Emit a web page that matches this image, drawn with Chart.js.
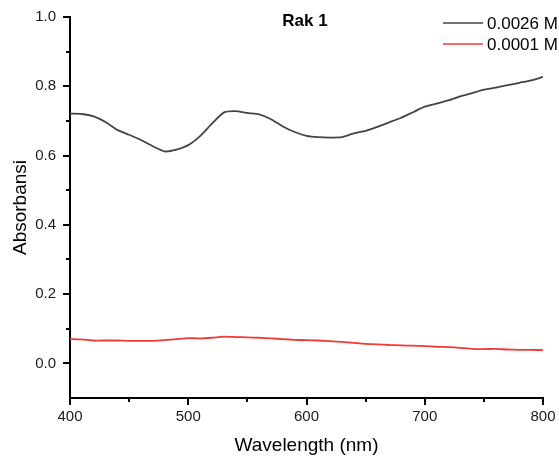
<!DOCTYPE html>
<html>
<head>
<meta charset="utf-8">
<script src="https://cdn.jsdelivr.net/npm/chart.js@4.4.1/dist/chart.umd.min.js"></script>
<style>
  html, body { margin: 0; padding: 0; background: #fff; }
  #wrap { width: 559px; height: 459px; position: relative; }
</style>
</head>
<body>
<div id="wrap"><canvas id="myChart"></canvas></div>
<script>
const FONT = 'Arial, "Liberation Sans", sans-serif';

const chart_title = "Rak 1";
const wavelengths = [400, 410, 420, 430, 440, 450, 460, 470, 480, 490,
  500, 510, 520, 530, 540, 550, 560, 570, 580, 590,
  600, 610, 620, 630, 640, 650, 660, 670, 680, 690,
  700, 710, 720, 730, 740, 750, 760, 770, 780, 790, 800];
const abs_0026 = [0.721, 0.720, 0.713, 0.697, 0.674, 0.660, 0.645, 0.627, 0.612, 0.617,
  0.630, 0.656, 0.692, 0.724, 0.728, 0.723, 0.719, 0.705, 0.684, 0.668,
  0.657, 0.653, 0.652, 0.653, 0.664, 0.671, 0.683, 0.696, 0.709, 0.725,
  0.741, 0.750, 0.759, 0.771, 0.780, 0.790, 0.796, 0.803, 0.810, 0.817, 0.827];
const abs_0001 = [0.070, 0.069, 0.066, 0.066, 0.066, 0.065, 0.065, 0.065, 0.067, 0.070,
  0.073, 0.072, 0.074, 0.077, 0.076, 0.075, 0.074, 0.072, 0.070, 0.068,
  0.067, 0.066, 0.064, 0.062, 0.059, 0.056, 0.055, 0.053, 0.052, 0.051,
  0.050, 0.048, 0.047, 0.045, 0.042, 0.041, 0.042, 0.040, 0.039, 0.039, 0.038];
const series_labels = ["0.0026 M", "0.0001 M"];
const x_major = [400, 500, 600, 700, 800];
const x_minor = [450, 550, 650, 750];
const y_major = [0.0, 0.2, 0.4, 0.6, 0.8, 1.0];
const y_minor = [0.1, 0.3, 0.5, 0.7, 0.9];

function toPoints(vals) {
  return wavelengths.map((w, i) => ({ x: w, y: vals[i] }));
}

// minor ticks, title and legend are drawn by hand
const extras = {
  id: "extras",
  afterDraw(c) {
    const ctx = c.ctx;
    const xs = c.scales.x, ys = c.scales.y;
    const area = c.chartArea;
    ctx.save();
    ctx.strokeStyle = "#000";
    ctx.lineWidth = 2;
    ctx.beginPath();
    for (const v of x_minor) {
      const px = Math.round(xs.getPixelForValue(v));
      ctx.moveTo(px, area.bottom);
      ctx.lineTo(px, area.bottom + 4);
    }
    for (const v of y_minor) {
      const py = Math.round(ys.getPixelForValue(v));
      ctx.moveTo(area.left, py);
      ctx.lineTo(area.left - 4, py);
    }
    ctx.stroke();

    ctx.fillStyle = "#000";
    ctx.font = "bold 17px " + FONT;
    ctx.textAlign = "center";
    ctx.textBaseline = "alphabetic";
    ctx.fillText(chart_title, 305, 26);

    ctx.font = "17px " + FONT;
    ctx.textAlign = "left";
    ctx.textBaseline = "middle";
    c.data.datasets.forEach((ds, i) => {
      const y = 23 + i * 21;
      ctx.strokeStyle = ds.borderColor;
      ctx.lineWidth = 1.5;
      ctx.beginPath();
      ctx.moveTo(443, y);
      ctx.lineTo(483, y);
      ctx.stroke();
      ctx.fillStyle = "#000";
      ctx.fillText(ds.label, 487, y + 1);
    });
    ctx.restore();
  },
};

const ctx = document.getElementById("myChart");
const chart = new Chart(ctx, {
  type: "line",
  data: {
    datasets: [
      { label: series_labels[0], data: toPoints(abs_0026), borderColor: "#444444", borderWidth: 1.8 },
      { label: series_labels[1], data: toPoints(abs_0001), borderColor: "#f03a3a", borderWidth: 1.8 },
    ],
  },
  options: {
    responsive: true,
    maintainAspectRatio: false,
    animation: false,
    layout: { padding: { top: 17, right: 16, left: 0, bottom: 0 } },
    elements: { point: { radius: 0 }, line: { tension: 0.2 } },
    plugins: { legend: { display: false }, tooltip: { enabled: false } },
    scales: {
      x: {
        type: "linear",
        min: 400,
        max: 800,
        afterBuildTicks: (s) => { s.ticks = x_major.map((v) => ({ value: v })); },
        afterFit: (s) => { s.height = 61; },
        border: { color: "#000", width: 2 },
        grid: { drawOnChartArea: false, drawTicks: true, tickLength: 7, color: "#000", lineWidth: 2 },
        ticks: { font: { family: FONT, size: 15 }, color: "#1a1a1a", padding: 3, maxRotation: 0 },
        title: { display: true, text: "Wavelength (nm)", font: { family: FONT, size: 19 }, color: "#000", padding: { bottom: 2 } },
      },
      y: {
        min: -0.1,
        max: 1.0,
        afterBuildTicks: (s) => { s.ticks = y_major.map((v) => ({ value: v })); },
        afterFit: (s) => { s.width = 70; },
        border: { color: "#000", width: 2 },
        grid: { drawOnChartArea: false, drawTicks: true, tickLength: 7, color: "#000", lineWidth: 2 },
        ticks: { font: { family: FONT, size: 15 }, color: "#1a1a1a", padding: 7, callback: (v) => v.toFixed(1) },
        title: { display: true, text: "Absorbansi", font: { family: FONT, size: 19 }, color: "#000", padding: { top: 9 } },
      },
    },
  },
  plugins: [extras],
});
</script>
</body>
</html>
